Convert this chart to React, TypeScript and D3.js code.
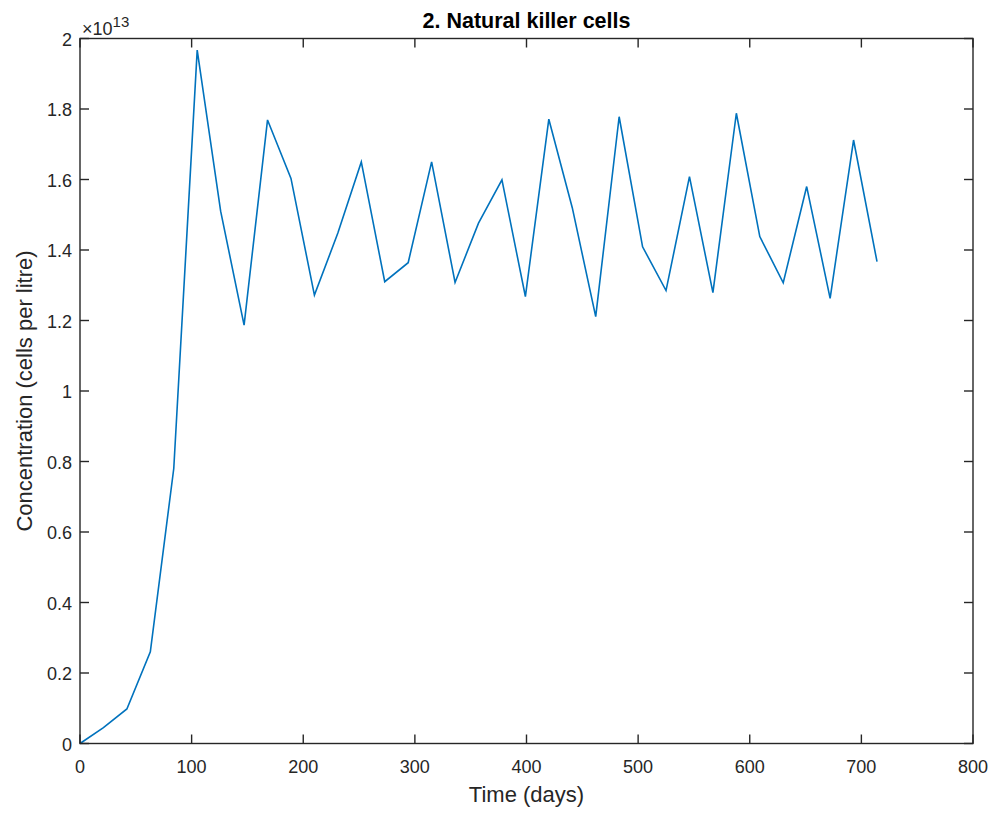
import React from "react";
import * as d3 from "d3";

const times = [0, 21, 42, 63, 84, 105, 126, 147, 168, 189, 210, 231, 252, 273, 294, 315, 336, 357, 378, 399, 420, 441, 462, 483, 504, 525, 546, 567, 588, 609, 630, 651, 672, 693, 714];
const concentration = [0, 0.045, 0.098, 0.26, 0.78, 1.967, 1.51, 1.187, 1.769, 1.603, 1.272, 1.448, 1.65, 1.31, 1.364, 1.65, 1.308, 1.476, 1.599, 1.268, 1.771, 1.52, 1.211, 1.778, 1.409, 1.285, 1.608, 1.279, 1.788, 1.438, 1.307, 1.58, 1.263, 1.712, 1.367];
const xTicks = [0, 100, 200, 300, 400, 500, 600, 700, 800];
const yTicks = [0, 0.2, 0.4, 0.6, 0.8, 1, 1.2, 1.4, 1.6, 1.8, 2];

const W = 996, H = 813;
const L = 80, R = 973, T = 38.5, B = 743.5;
const FONT = "'Liberation Sans', Arial, Helvetica, sans-serif";
const AX = "#262626";

export default function App() {
  const x = d3.scaleLinear().domain([0, 800]).range([L, R]);
  const y = d3.scaleLinear().domain([0, 2]).range([B, T]);
  const line = d3.line<number>().x((_, i) => x(times[i])).y((d) => y(d));
  const tl = 9;
  return (
    <svg width={W} height={H} style={{ position: "absolute", left: 0, top: 0, background: "#fff" }}>
      <rect x={0} y={0} width={W} height={H} fill="#fff" />
      <path d={line(concentration) || ""} fill="none" stroke="#0072BD" strokeWidth={1.6} />
      <rect x={L} y={T} width={R - L} height={B - T} fill="none" stroke={AX} strokeWidth={1.4} />
      {xTicks.map((t) => (
        <g key={"x" + t}>
          <line x1={x(t)} x2={x(t)} y1={B} y2={B - tl} stroke={AX} strokeWidth={1.4} />
          <line x1={x(t)} x2={x(t)} y1={T} y2={T + tl} stroke={AX} strokeWidth={1.4} />
          <text x={x(t)} y={B + 29} textAnchor="middle" fontFamily={FONT} fontSize={18} fill={AX}>{t}</text>
        </g>
      ))}
      {yTicks.map((t) => (
        <g key={"y" + t}>
          <line x1={L} x2={L + tl} y1={y(t)} y2={y(t)} stroke={AX} strokeWidth={1.4} />
          <line x1={R} x2={R - tl} y1={y(t)} y2={y(t)} stroke={AX} strokeWidth={1.4} />
          <text x={L - 8} y={y(t) + 7} textAnchor="end" fontFamily={FONT} fontSize={18} fill={AX}>{t}</text>
        </g>
      ))}
      <text x={82} y={35} fontFamily={FONT} fontSize={18} fill={AX}>
        ×10<tspan dy={-8} fontSize={15}>13</tspan>
      </text>
      <text x={(L + R) / 2} y={28} textAnchor="middle" fontFamily={FONT} fontSize={21.5} fontWeight="bold" fill="#000">2. Natural killer cells</text>
      <text x={(L + R) / 2} y={802} textAnchor="middle" fontFamily={FONT} fontSize={22} fill={AX}>Time (days)</text>
      <text transform={`translate(32, ${(T + B) / 2}) rotate(-90)`} textAnchor="middle" fontFamily={FONT} fontSize={22} fill={AX}>Concentration (cells per litre)</text>
    </svg>
  );
}
